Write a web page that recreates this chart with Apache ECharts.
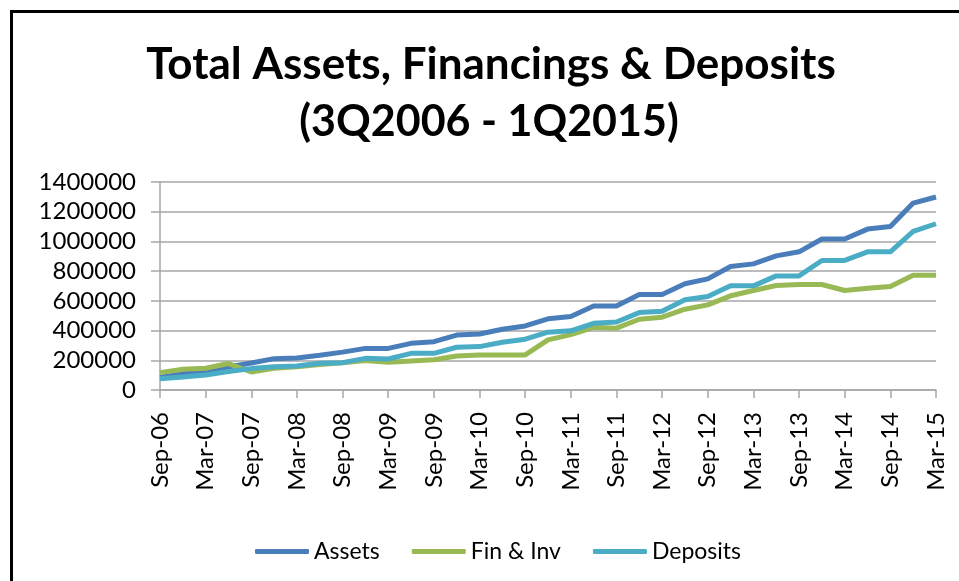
<!DOCTYPE html>
<html>
<head>
<meta charset="utf-8">
<script src="https://cdn.jsdelivr.net/npm/echarts@6/dist/echarts.min.js"></script>
<style>
  html, body { margin: 0; padding: 0; background: #fff; }
  #chart { width: 959px; height: 581px; }
</style>
</head>
<body>
<div id="chart"></div>
<script>
// quarters 3Q2006 .. 1Q2015
const quarters = [
  "Sep-06", "Dec-06", "Mar-07", "Jun-07", "Sep-07", "Dec-07", "Mar-08", "Jun-08",
  "Sep-08", "Dec-08", "Mar-09", "Jun-09", "Sep-09", "Dec-09", "Mar-10", "Jun-10",
  "Sep-10", "Dec-10", "Mar-11", "Jun-11", "Sep-11", "Dec-11", "Mar-12", "Jun-12",
  "Sep-12", "Dec-12", "Mar-13", "Jun-13", "Sep-13", "Dec-13", "Mar-14", "Jun-14",
  "Sep-14", "Dec-14", "Mar-15"
];

const assets = [
  85000, 110000, 130000, 155000, 182000, 211000, 216000, 234000,
  255000, 280000, 280000, 314000, 325000, 370000, 377000, 409000,
  431000, 479000, 494000, 566000, 566000, 643000, 643000, 715000,
  748000, 831000, 849000, 903000, 930000, 1016000, 1016000, 1083000,
  1101000, 1258000, 1299000
];

const finInv = [
  117000, 139000, 146000, 178000, 121000, 146000, 157000, 172000,
  184000, 198000, 187000, 196000, 204000, 229000, 236000, 236000,
  236000, 337000, 373000, 422000, 416000, 476000, 490000, 544000,
  573000, 634000, 670000, 703000, 710000, 710000, 670000, 685000,
  697000, 773000, 773000
];

const deposits = [
  75000, 88000, 101000, 124000, 144000, 157000, 162000, 180000,
  184000, 213000, 209000, 247000, 247000, 288000, 292000, 321000,
  342000, 389000, 398000, 449000, 458000, 521000, 530000, 607000,
  629000, 701000, 701000, 768000, 768000, 872000, 872000, 930000,
  930000, 1067000, 1119000
];

const chart = echarts.init(document.getElementById("chart"));

const gridColor = "#a6a6a6";
const fontFam = "Lato, 'Liberation Sans', sans-serif";

const option = {
  backgroundColor: "#fff",
  animation: false,
  graphic: [
    {
      type: "rect",
      shape: { x: 11.5, y: 11.5, width: 1000, height: 1000 },
      style: { fill: "none", stroke: "#000", lineWidth: 3 }
    },
    {
      type: "text",
      x: 491,
      y: 65,
      style: {
        text: "Total Assets, Financings & Deposits",
        font: "bold 44px " + fontFam,
        fill: "#000",
        textAlign: "center",
        textVerticalAlign: "middle"
      }
    },
    {
      type: "text",
      x: 489,
      y: 122,
      style: {
        text: "(3Q2006 - 1Q2015)",
        font: "bold 43px " + fontFam,
        fill: "#000",
        textAlign: "center",
        textVerticalAlign: "middle"
      }
    }
  ],
  legend: {
    top: 535,
    left: 250,
    itemWidth: 54,
    itemHeight: 5,
    itemGap: 32,
    icon: "roundRect",
    textStyle: { fontSize: 23, fontFamily: fontFam, color: "#000" },
    data: ["Assets", "Fin & Inv", "Deposits"]
  },
  grid: {
    left: 160,
    right: 23,
    top: 182,
    bottom: 191
  },
  xAxis: {
    type: "category",
    boundaryGap: false,
    data: quarters,
    axisLine: { lineStyle: { color: gridColor, width: 1.5 } },
    axisTick: { show: true, interval: 1, length: 8, lineStyle: { color: gridColor, width: 1.5 } },
    axisLabel: {
      interval: 1,
      rotate: 90,
      margin: 22,
      fontSize: 24,
      fontFamily: fontFam,
      color: "#000"
    }
  },
  yAxis: {
    type: "value",
    min: 0,
    max: 1400000,
    interval: 200000,
    axisLine: { show: true, lineStyle: { color: gridColor, width: 1.5 } },
    axisTick: { show: true, length: 9, lineStyle: { color: gridColor, width: 1.5 } },
    splitLine: { lineStyle: { color: gridColor, width: 1.5 } },
    axisLabel: {
      margin: 24,
      fontSize: 24,
      fontFamily: fontFam,
      color: "#000",
      formatter: (v) => String(v)
    }
  },
  series: [
    {
      name: "Assets",
      type: "line",
      data: assets,
      showSymbol: false,
      symbol: "none",
      color: "#4a7ebb",
      lineStyle: { width: 5, color: "#4a7ebb" }
    },
    {
      name: "Fin & Inv",
      type: "line",
      data: finInv,
      showSymbol: false,
      symbol: "none",
      color: "#98b954",
      lineStyle: { width: 5, color: "#98b954" }
    },
    {
      name: "Deposits",
      type: "line",
      data: deposits,
      showSymbol: false,
      symbol: "none",
      color: "#4bacc6",
      lineStyle: { width: 5, color: "#4bacc6" }
    }
  ]
};

chart.setOption(option);
</script>
</body>
</html>
